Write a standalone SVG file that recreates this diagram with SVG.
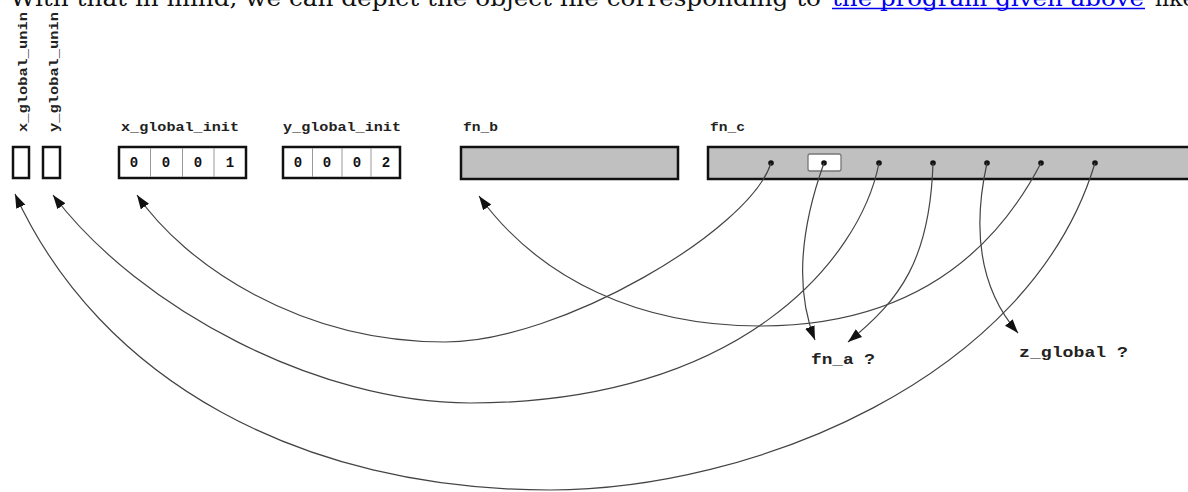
<svg xmlns="http://www.w3.org/2000/svg" width="1188" height="492" viewBox="0 0 1188 492">
<style>
.lbl{font-family:"Liberation Mono",monospace;font-weight:bold;font-size:13px;fill:#222}
.dig{font-family:"Liberation Mono",monospace;font-weight:bold;font-size:14px;fill:#111;text-anchor:middle}
.q{font-family:"Liberation Mono",monospace;font-weight:bold;font-size:14px;fill:#222}
.box{fill:#fff;stroke:#111;stroke-width:2.5}
.fn{fill:#c0c0c0;stroke:#111;stroke-width:2.5}
.div{stroke:#999;stroke-width:1}
.con{fill:none;stroke:#444;stroke-width:1.2}
.dot{fill:#111}
.prose{font-family:"DejaVu Serif",serif;font-size:22px}
</style>
<defs>
<marker id="ah" markerUnits="userSpaceOnUse" markerWidth="15" markerHeight="11" refX="14" refY="5" orient="auto">
<path d="M0,0 L14,5 L0,10 z" fill="#111"/>
</marker>
</defs>
<rect width="1188" height="492" fill="#fff"/>
<g id="prose">
<text class="prose" x="10" y="6" fill="#111" textLength="811" lengthAdjust="spacingAndGlyphs">With that in mind, we can depict the object file corresponding to</text>
<text class="prose" x="832" y="6" fill="#0000ee" textLength="312" lengthAdjust="spacingAndGlyphs">the program given above</text>
<line x1="832" y1="8.5" x2="1145" y2="8.5" stroke="#0000ee" stroke-width="1.3"/>
<text class="prose" x="1155" y="6" fill="#111">like</text>
</g>
<g id="x_global_unin">
<text class="lbl" transform="translate(27,132) rotate(-90)" textLength="120" lengthAdjust="spacingAndGlyphs">x_global_unin</text>
<rect class="box" x="13" y="147" width="16" height="31"/>
</g>
<g id="y_global_unin">
<text class="lbl" transform="translate(58,132) rotate(-90)" textLength="120" lengthAdjust="spacingAndGlyphs">y_global_unin</text>
<rect class="box" x="43" y="147" width="17" height="31"/>
</g>
<g id="x_global_init">
<text class="lbl" x="121" y="131" textLength="118" lengthAdjust="spacingAndGlyphs">x_global_init</text>
<rect class="box" x="119" y="147" width="127" height="31"/>
<line class="div" x1="150.5" y1="148" x2="150.5" y2="177"/>
<line class="div" x1="182.5" y1="148" x2="182.5" y2="177"/>
<line class="div" x1="214" y1="148" x2="214" y2="177"/>
<text class="dig" x="134" y="167">0</text>
<text class="dig" x="166" y="167">0</text>
<text class="dig" x="198" y="167">0</text>
<text class="dig" x="230" y="167">1</text>
</g>
<g id="y_global_init">
<text class="lbl" x="283" y="131" textLength="118" lengthAdjust="spacingAndGlyphs">y_global_init</text>
<rect class="box" x="283" y="147" width="117" height="31"/>
<line class="div" x1="312.5" y1="148" x2="312.5" y2="177"/>
<line class="div" x1="342" y1="148" x2="342" y2="177"/>
<line class="div" x1="371" y1="148" x2="371" y2="177"/>
<text class="dig" x="298" y="167">0</text>
<text class="dig" x="327" y="167">0</text>
<text class="dig" x="357" y="167">0</text>
<text class="dig" x="386" y="167">2</text>
</g>
<g id="fn_b">
<text class="lbl" x="463" y="131" textLength="35" lengthAdjust="spacingAndGlyphs">fn_b</text>
<rect class="fn" x="461" y="147" width="217" height="32"/>
</g>
<g id="fn_c">
<text class="lbl" x="710" y="131" textLength="35" lengthAdjust="spacingAndGlyphs">fn_c</text>
<rect class="fn" x="708" y="147" width="500" height="32"/>
<rect x="808" y="154" width="33" height="17" rx="2" fill="#fff" stroke="#777" stroke-width="1.3"/>
<circle class="dot" cx="771" cy="163" r="2.8"/>
<circle class="dot" cx="824" cy="163" r="2.8"/>
<circle class="dot" cx="879" cy="163" r="2.8"/>
<circle class="dot" cx="933" cy="163" r="2.8"/>
<circle class="dot" cx="987" cy="163" r="2.8"/>
<circle class="dot" cx="1041" cy="163" r="2.8"/>
<circle class="dot" cx="1095" cy="163" r="2.8"/>
</g>
<g id="fn_a">
<text class="q" x="811" y="364" textLength="64" lengthAdjust="spacingAndGlyphs">fn_a ?</text>
</g>
<g id="z_global">
<text class="q" x="1019" y="357" textLength="109" lengthAdjust="spacingAndGlyphs">z_global ?</text>
</g>
<g id="connectors">
<path class="con" marker-end="url(#ah)" d="M1095,163 C1030,380 750,490 550,490 C300,490 100,380 15,194"/>
<path class="con" marker-end="url(#ah)" d="M879,163 C860,260 740,403 470,403 C320,403 140,310 53,195"/>
<path class="con" marker-end="url(#ah)" d="M771,163 C750,230 560,342 445,342 C300,342 185,265 137,195"/>
<path class="con" marker-end="url(#ah)" d="M1041,163 C980,280 880,326 760,326 C640,326 540,280 479,196"/>
<path class="con" marker-end="url(#ah)" d="M824,163 C800,230 795,290 815,340"/>
<path class="con" marker-end="url(#ah)" d="M933,163 C930,260 900,300 848,342"/>
<path class="con" marker-end="url(#ah)" d="M987,163 C970,240 985,295 1018,333"/>
</g>
</svg>
